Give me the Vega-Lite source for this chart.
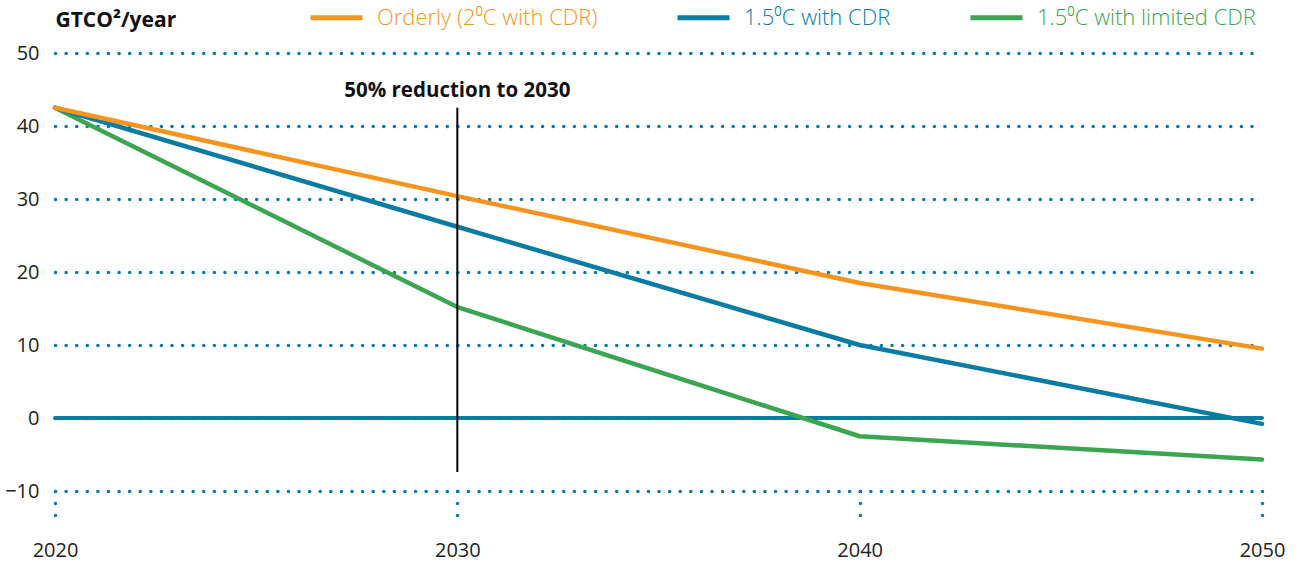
{
  "$schema": "https://vega.github.io/schema/vega-lite/v6.json",
  "width": 1207,
  "height": 438,
  "autosize": "none",
  "padding": {"left": 55, "top": 53, "right": 41, "bottom": 74},
  "background": "white",
  "config": {"view": {"stroke": null}, "font": "Open Sans"},
  "datasets": {
    "series": [
      {"series": "1.5⁰C with limited CDR", "year": 2020, "value": 42.5},
      {"series": "1.5⁰C with limited CDR", "year": 2030, "value": 15.2},
      {"series": "1.5⁰C with limited CDR", "year": 2040, "value": -2.5},
      {"series": "1.5⁰C with limited CDR", "year": 2050, "value": -5.7},
      {"series": "1.5⁰C with CDR", "year": 2020, "value": 42.5},
      {"series": "1.5⁰C with CDR", "year": 2030, "value": 26.2},
      {"series": "1.5⁰C with CDR", "year": 2040, "value": 10.0},
      {"series": "1.5⁰C with CDR", "year": 2050, "value": -0.8},
      {"series": "Orderly (2⁰C with CDR)", "year": 2020, "value": 42.5},
      {"series": "Orderly (2⁰C with CDR)", "year": 2030, "value": 30.4},
      {"series": "Orderly (2⁰C with CDR)", "year": 2040, "value": 18.5},
      {"series": "Orderly (2⁰C with CDR)", "year": 2050, "value": 9.5}
    ],
    "annot": [{"year": 2030, "top": 42.5, "bottom": -7.4, "ly": 44.8, "label": "50% reduction to 2030"}],
    "zero": [{"v": 0}]
  },
  "layer": [
    {
      "data": {"name": "zero"},
      "mark": {"type": "rule", "color": "#0A7CA3", "strokeWidth": 4, "strokeCap": "round"},
      "encoding": {
        "y": {
          "field": "v", "type": "quantitative",
          "scale": {"domain": [-10, 50], "nice": false, "zero": false},
          "axis": {
            "values": [-10, 0, 10, 20, 30, 40, 50],
            "grid": true, "gridDash": [0.1, 10.488], "gridCap": "round", "gridWidth": 3.5, "gridColor": "#0A7CA3",
            "domain": false, "ticks": false, "labelPadding": 16, "labelFontSize": 20, "labelColor": "#222",
            "title": "GTCO²/year", "titleAngle": 0, "titleAlign": "left", "titleX": 0, "titleY": -33,
            "titleBaseline": "middle", "titleFontSize": 21, "titleFontWeight": "bold", "titleColor": "#111"
          }
        }
      }
    },
    {
      "data": {"name": "series"},
      "mark": {"type": "line", "strokeWidth": 4.5, "strokeCap": "round", "strokeJoin": "round"},
      "encoding": {
        "x": {
          "field": "year", "type": "quantitative",
          "scale": {"domain": [2020, 2050], "nice": false, "zero": false},
          "axis": {
            "values": [2020, 2030, 2040, 2050], "format": "d", "grid": false, "domain": false,
            "ticks": true, "tickSize": 27, "tickDash": [0.1, 11.9], "tickCap": "round", "tickWidth": 3.5, "tickColor": "#0A7CA3",
            "labelPadding": 22, "labelFontSize": 20, "labelColor": "#222", "title": null, "labelFlush": false
          }
        },
        "y": {"field": "value", "type": "quantitative"},
        "color": {
          "field": "series", "type": "nominal",
          "scale": {
            "domain": ["Orderly (2⁰C with CDR)", "1.5⁰C with CDR", "1.5⁰C with limited CDR"],
            "range": ["#F7941D", "#0A7CA3", "#3BA552"]
          },
          "legend": {
            "title": null, "orient": "none", "legendX": 253, "legendY": -64, "direction": "horizontal", "columns": 3,
            "symbolType": "stroke", "symbolSize": 2700, "symbolStrokeWidth": 5,
            "labelFontSize": 22, "labelFontWeight": 300, "labelLimit": 0, "columnPadding": 69, "labelOffset": 12,
            "encode": {"labels": {"update": {"fill": {"scale": "color", "field": "value"}}}}
          }
        }
      }
    },
    {
      "data": {"name": "annot"},
      "mark": {"type": "rule", "color": "#000", "strokeWidth": 2},
      "encoding": {
        "x": {"field": "year", "type": "quantitative"},
        "y": {"field": "top", "type": "quantitative"},
        "y2": {"field": "bottom"}
      }
    },
    {
      "data": {"name": "annot"},
      "mark": {"type": "text", "fontSize": 20.5, "fontWeight": "bold", "color": "#111", "baseline": "middle", "align": "center"},
      "encoding": {
        "x": {"field": "year", "type": "quantitative"},
        "y": {"field": "ly", "type": "quantitative"},
        "text": {"field": "label"}
      }
    }
  ]
}
